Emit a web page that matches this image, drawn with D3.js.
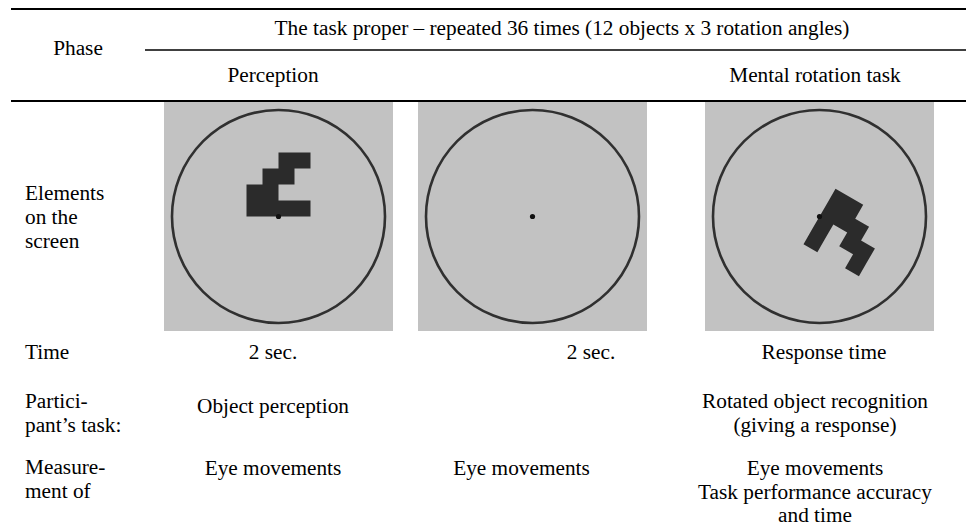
<!DOCTYPE html>
<html lang="en">
<head>
<meta charset="utf-8">
<title>Task phases</title>
<script src="https://cdnjs.cloudflare.com/ajax/libs/d3/7.8.5/d3.min.js"></script>
<style>
  body { margin: 0; background: #fff; }
  svg text { font-family: "Liberation Serif", "Times New Roman", serif; font-size: 21.3px; fill: #000; }
</style>
</head>
<body>
<svg id="chart" width="966" height="526"></svg>
<script>
// header texts
var phaseLabel = "Phase";
var taskTitle = "The task proper \u2013 repeated 36 times (12 objects x 3 rotation angles)";
var columns = ["perception", "blank", "rotation"];
var columnHeads = ["Perception", "", "Mental rotation task"];

// row labels (already hyphenated as in the source)
var rowLabels = [
    ["Elements", "on the", "screen"],
    ["Time"],
    ["Partici-", "pant\u2019s task:"],
    ["Measure-", "ment of"]
];

// cell texts per column
var timeCells = [["2 sec."], ["2 sec."], ["Response time"]];
var taskCells = [["Object perception"], [], ["Rotated object recognition", "(giving a response)"]];
var measureCells = [["Eye movements"], ["Eye movements"], ["Eye movements", "Task performance accuracy", "and time"]];

// object on screen: unit cells relative to fixation point, and rotation of it (deg)
var objectCells = [[0, -4], [1, -4], [-1, -3], [0, -3], [-2, -2], [-1, -2], [-2, -1], [-1, -1], [0, -1], [1, -1]];
var objectAngle = [0, null, 120];

var svg = d3.select("#chart");

// layout
var panelLeft = d3.scaleOrdinal().domain(columns).range([164, 418, 705]);
var panelSize = 229, panelTop = 102;
var headX = d3.scaleOrdinal().domain(columns).range([273, 532, 815]);
var timeX = d3.scaleOrdinal().domain(columns).range([273, 591, 824]);
var cellX = d3.scaleOrdinal().domain(columns).range([273, 521.5, 815]);
var lineH = 24;
var cellSize = 16;

// rules
svg.append("line").attr("x1", 11).attr("x2", 966).attr("y1", 9).attr("y2", 9)
    .attr("stroke", "#000").attr("stroke-width", 2);
svg.append("line").attr("x1", 145).attr("x2", 966).attr("y1", 50).attr("y2", 50)
    .attr("stroke", "#000").attr("stroke-width", 1.7);
svg.append("line").attr("x1", 11).attr("x2", 966).attr("y1", 101).attr("y2", 101)
    .attr("stroke", "#000").attr("stroke-width", 2);

// header
svg.append("text").attr("x", 78).attr("y", 54.5).attr("text-anchor", "middle").text(phaseLabel);
svg.append("text").attr("x", 562).attr("y", 35).attr("text-anchor", "middle").text(taskTitle);
svg.selectAll("text.head").data(columns).enter().append("text")
    .attr("class", "head")
    .attr("x", function(d) { return headX(d); })
    .attr("y", 82)
    .attr("text-anchor", "middle")
    .text(function(d, i) { return columnHeads[i]; });

// row labels
var rowY = [199.5, 359, 408, 473.5];
svg.selectAll("g.rowlabel").data(rowLabels).enter().append("g")
    .attr("class", "rowlabel")
    .each(function(lines, r) {
        d3.select(this).selectAll("text").data(lines).enter().append("text")
            .attr("x", 25)
            .attr("y", function(d, k) { return rowY[r] + k * lineH; })
            .text(function(d) { return d; });
    });

// screen panels
var panels = svg.selectAll("g.panel").data(columns).enter().append("g")
    .attr("class", "panel")
    .attr("transform", function(d) {
        return "translate(" + (panelLeft(d) + panelSize / 2) + "," + (panelTop + panelSize / 2) + ")";
    });
panels.append("rect")
    .attr("x", -panelSize / 2).attr("y", -panelSize / 2)
    .attr("width", panelSize).attr("height", panelSize)
    .attr("fill", "#c2c2c2");
panels.append("circle").attr("r", 106.5)
    .attr("fill", "none").attr("stroke", "#303030").attr("stroke-width", 2.6);

// object drawn as one path so rotated cells show no seams
var objPath = objectCells.map(function(c) {
    var x = c[0] * cellSize, y = c[1] * cellSize;
    return "M" + x + "," + y + "h" + cellSize + "v" + cellSize + "h" + (-cellSize) + "Z";
}).join("");
panels.filter(function(d, i) { return objectAngle[i] !== null; })
    .append("path")
    .attr("d", objPath)
    .attr("transform", function(d) { return "rotate(" + objectAngle[columns.indexOf(d)] + ")"; })
    .attr("fill", "#2b2b2b");
panels.append("circle").attr("r", 2.6).attr("fill", "#111");

// text cells
function cellBlock(data, y0, xs, step) {
    data.forEach(function(lines, i) {
        var col = columns[i];
        // single lines sit a bit lower when the row label has two lines
        var y = (lines.length === 1 && y0 === 408) ? 412.5 : y0;
        svg.selectAll(null).data(lines).enter().append("text")
            .attr("x", xs(col))
            .attr("y", function(d, k) { return y + k * step; })
            .attr("text-anchor", "middle")
            .text(function(d) { return d; });
    });
}
cellBlock(timeCells, 359, timeX, lineH);
cellBlock(taskCells, 408, cellX, lineH);
cellBlock(measureCells, 475, cellX, 23.5);
</script>
</body>
</html>
